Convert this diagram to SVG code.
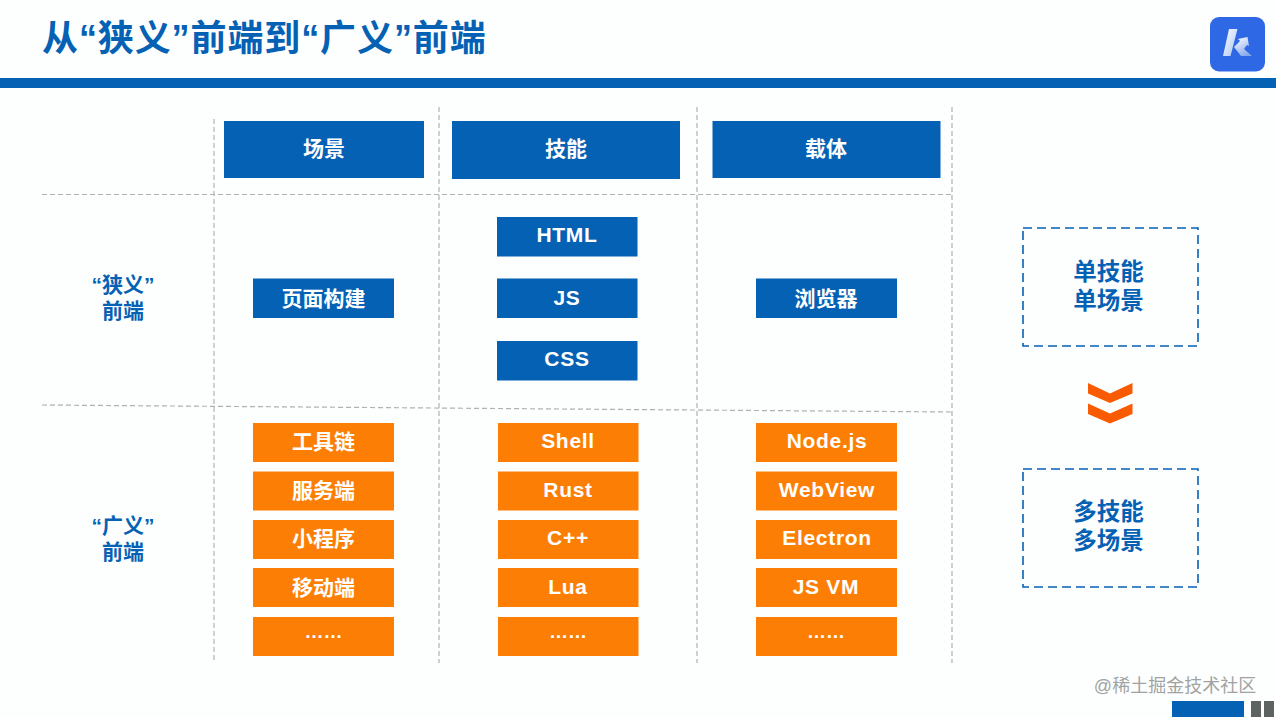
<svg xmlns="http://www.w3.org/2000/svg" width="1276" height="717" viewBox="0 0 1276 717">
<style>
text{font-family:"Liberation Sans","Noto Sans CJK SC",sans-serif;font-weight:700;text-anchor:middle}
.b{fill:#0561b4}.o{fill:#fd7e04}
.tw{fill:#fff;font-size:21px}
.tb{fill:#0561b4;font-size:21px}
.lat{fill:#fff;font-size:21px;letter-spacing:.7px}
.dots{fill:#fff;font-size:19px;letter-spacing:0}
.big{fill:#0561b4;font-size:23.500px}
.g{stroke:#b0b2b2;stroke-width:1.2;stroke-dasharray:5 3;fill:none}
.d{fill:none;stroke:#0561b4;stroke-width:1.6;stroke-dasharray:9 5}
</style>
<defs><linearGradient id="kg" x1="0" y1="0" x2="1" y2="1"><stop offset="0" stop-color="#fff"/><stop offset="1" stop-color="#a9c3f2"/></linearGradient>
<linearGradient id="kg2" x1="0.3" y1="0" x2="0.8" y2="1"><stop offset="0" stop-color="#f4f7fe"/><stop offset="1" stop-color="#7fa4ea"/></linearGradient></defs>
<rect width="1276" height="717" fill="#fdfffe"/>
<text x="42" y="51" style="font-size:36px;letter-spacing:.9px;text-anchor:start" fill="#0561b4">从“狭义”前端到“广义”前端</text>
<rect x="0" y="78" width="1276" height="10" fill="#0561b4"/>
<g id="logo"><rect x="1210" y="17" width="55" height="54.500" rx="9" fill="#2f68e4"/>
<path d="M1229 29h8.500l-7 27h-7.500z" fill="url(#kg)"/><path d="M1234 47l6-6 -2-2 9.500-2 1.500 9-2-1-3 4 8 7h-11q-3-4-7-9z" fill="url(#kg2)"/></g>
<g id="connectors">
<path class="g" d="M42 194.500H952M42 405L952 412M214 119V663M439 107V663M697 107V663M952 107V663"/>
</g>
<g id="h1"><rect class="b" x="224" y="121" width="200" height="57"/><text class="tw" x="324" y="156">场景</text></g>
<g id="h2"><rect class="b" x="452" y="121" width="228" height="58"/><text class="tw" x="566" y="156">技能</text></g>
<g id="h3"><rect class="b" x="712.500" y="121" width="228" height="57"/><text class="tw" x="826" y="156">载体</text></g>
<g id="r1"><text class="tb"><tspan x="123" y="292">“狭义”</tspan><tspan x="123" y="318">前端</tspan></text></g>
<g id="r2"><text class="tb"><tspan x="123" y="533">“广义”</tspan><tspan x="123" y="559">前端</tspan></text></g>
<g id="n1"><rect class="b" x="253" y="278.500" width="141" height="39.500"/><text class="tw" x="323.500" y="306">页面构建</text></g>
<g id="n2"><rect class="b" x="497" y="217" width="140.500" height="39.500"/><text class="lat" x="567" y="242">HTML</text></g>
<g id="n3"><rect class="b" x="497" y="278.500" width="140.500" height="39.500"/><text class="lat" x="567" y="305">JS</text></g>
<g id="n4"><rect class="b" x="497" y="341" width="140.500" height="39.500"/><text class="lat" x="567" y="366">CSS</text></g>
<g id="n5"><rect class="b" x="756" y="278.500" width="141" height="39.500"/><text class="tw" x="826" y="306">浏览器</text></g>
<g id="o11"><rect class="o" x="253" y="423" width="141" height="39"/><text class="tw" x="323.500" y="449">工具链</text></g>
<g id="o12"><rect class="o" x="253" y="471.500" width="141" height="39"/><text class="tw" x="323.500" y="498">服务端</text></g>
<g id="o13"><rect class="o" x="253" y="520" width="141" height="39"/><text class="tw" x="323.500" y="546">小程序</text></g>
<g id="o14"><rect class="o" x="253" y="568" width="141" height="39"/><text class="tw" x="323.500" y="595">移动端</text></g>
<g id="o15"><rect class="o" x="253" y="617" width="141" height="39"/><text class="dots" x="323.500" y="638">……</text></g>
<g id="o21"><rect class="o" x="498" y="423" width="140.500" height="39"/><text class="lat" x="568" y="448">Shell</text></g>
<g id="o22"><rect class="o" x="498" y="471.500" width="140.500" height="39"/><text class="lat" x="568" y="497">Rust</text></g>
<g id="o23"><rect class="o" x="498" y="520" width="140.500" height="39"/><text class="lat" x="568" y="545">C++</text></g>
<g id="o24"><rect class="o" x="498" y="568" width="140.500" height="39"/><text class="lat" x="568" y="594">Lua</text></g>
<g id="o25"><rect class="o" x="498" y="617" width="140.500" height="39"/><text class="dots" x="568" y="638">……</text></g>
<g id="o31"><rect class="o" x="756" y="423" width="141" height="39"/><text class="lat" x="827" y="448">Node.js</text></g>
<g id="o32"><rect class="o" x="756" y="471.500" width="141" height="39"/><text class="lat" x="827" y="497">WebView</text></g>
<g id="o33"><rect class="o" x="756" y="520" width="141" height="39"/><text class="lat" x="827" y="545">Electron</text></g>
<g id="o34"><rect class="o" x="756" y="568" width="141" height="39"/><text class="lat" x="826" y="594">JS VM</text></g>
<g id="o35"><rect class="o" x="756" y="617" width="141" height="39"/><text class="dots" x="826" y="638">……</text></g>
<g id="s1"><rect class="d" x="1023" y="228" width="175" height="118"/><text class="big"><tspan x="1108.500" y="280">单技能</tspan><tspan x="1108.500" y="309">单场景</tspan></text></g>
<g id="s2"><rect class="d" x="1023" y="469" width="175" height="118"/><text class="big"><tspan x="1108.500" y="520">多技能</tspan><tspan x="1108.500" y="549">多场景</tspan></text></g>
<g id="chevrons" fill="#f95b02"><path d="M1088 383l22 10.500 22.500-10.500v10.500l-22.500 9.500-22-9.500z"/><path d="M1088 403.500l22 10 22.500-10v10.500l-22.500 9.500-22-9.500z"/></g>
<text x="1175" y="692" style="font-size:18px;font-weight:400" fill="#a1a3a3">@稀土掘金技术社区</text>
<rect x="1172" y="701" width="72" height="16" fill="#0561b4"/>
<rect x="1251" y="701" width="10" height="16" fill="#5d6361"/><rect x="1264" y="701" width="10" height="16" fill="#5d6361"/>
</svg>
